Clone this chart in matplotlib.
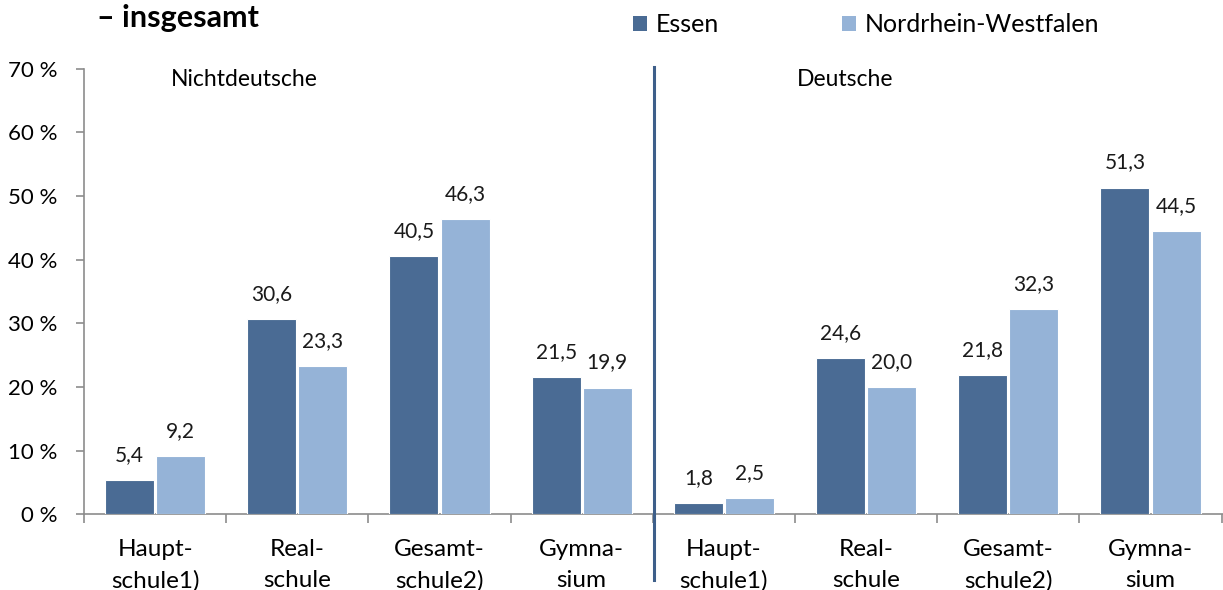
import matplotlib
matplotlib.use("Agg")
import matplotlib.pyplot as plt
import numpy as np
from matplotlib.lines import Line2D
from matplotlib.patches import Patch

categories = ["Haupt-\nschule1)", "Real-\nschule", "Gesamt-\nschule2)", "Gymna-\nsium",
              "Haupt-\nschule1)", "Real-\nschule", "Gesamt-\nschule2)", "Gymna-\nsium"]
essen = [5.4, 30.6, 40.5, 21.5, 1.8, 24.6, 21.8, 51.3]
nrw = [9.2, 23.3, 46.3, 19.9, 2.5, 20.0, 32.3, 44.5]
series_names = ["Essen", "Nordrhein-Westfalen"]
groups = ["Nichtdeutsche", "Deutsche"]
yticks = [0, 10, 20, 30, 40, 50, 60, 70]

plt.rcParams['font.family'] = ['Lato', 'DejaVu Sans']
c_essen = "#4A6B94"
c_nrw = "#95B3D7"
axis_col = "#8C8C8C"

W, H = 1223, 590
fig = plt.figure(figsize=(W / 100, H / 100), dpi=100)
ax = fig.add_axes([84 / W, 1 - 514.3 / H, (1223 - 84) / W, (514.3 - 68.5) / H])

x = np.arange(len(categories))
bw = 0.345
off = 0.18
b1 = ax.bar(x - off, essen, bw, color=c_essen, edgecolor="white", linewidth=0.8, zorder=3)
b2 = ax.bar(x + off, nrw, bw, color=c_nrw, edgecolor="white", linewidth=0.8, zorder=3)

def fmt(v):
    return f"{v:.1f}".replace(".", ",")

for bars, vals in ((b1, essen), (b2, nrw)):
    for r, v in zip(bars, vals):
        ax.annotate(fmt(v), (r.get_x() + r.get_width() / 2, v), xytext=(0, 25),
                    textcoords="offset pixels", ha="center", va="center", fontsize=15, color="#1a1a1a")

ax.set_ylim(0, 70)
ax.set_xlim(-0.5, len(categories) - 0.5 + 0.01)
ax.set_yticks(yticks)
ax.set_yticklabels([f"{t} %" for t in yticks], fontsize=16)
ax.set_xticks(x)
ax.set_xticklabels(categories, fontsize=17.5, linespacing=1.56)
ax.tick_params(axis="x", length=0, pad=18)
ax.set_xticks(np.arange(-0.5, len(categories) + 0.5, 1.0), minor=True)
ax.tick_params(axis="x", which="minor", length=6.5, color=axis_col, width=1.2)
ax.tick_params(axis="y", length=6, color=axis_col, width=1.2, pad=13)
for s in ("top", "right"):
    ax.spines[s].set_visible(False)
for s in ("left", "bottom"):
    ax.spines[s].set_color(axis_col)
    ax.spines[s].set_linewidth(1.2)

ax.text(0.63, 68.2, groups[0], ha="center", va="center", fontsize=16.5)
ax.text(4.85, 68.2, groups[1], ha="center", va="center", fontsize=16.5)

# divider line between the two groups
fig.add_artist(Line2D([654 / W, 654 / W], [1 - 67 / H, 1 - 580 / H], color="#3E5F8A", linewidth=2.2))

fig.text(97 / W, 1 - 27 / H, "– insgesamt", fontsize=22, fontweight="bold", ha="left", va="baseline")

handles = [Patch(facecolor=c_essen), Patch(facecolor=c_nrw)]
fig.legend(handles, series_names, loc="center left", bbox_to_anchor=(633 / W, 1 - 25 / H),
           ncol=2, frameon=False, fontsize=18, handlelength=0.54, handleheight=0.54,
           handletextpad=0.35, columnspacing=4.95, borderpad=0, borderaxespad=0)

fig.savefig("out.png", dpi=100)
